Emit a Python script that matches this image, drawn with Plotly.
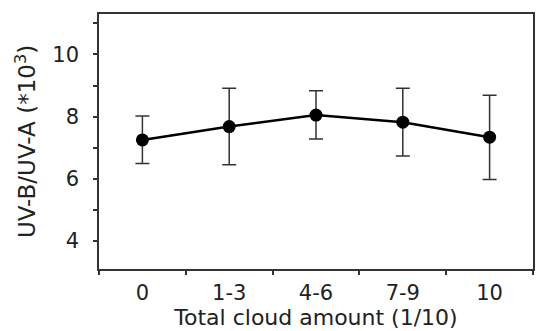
import plotly.graph_objects as go

categories = ["0", "1-3", "4-6", "7-9", "10"]
means = [7.25, 7.68, 8.05, 7.82, 7.34]
upper = [8.02, 8.91, 8.83, 8.91, 8.69]
lower = [6.49, 6.45, 7.28, 6.73, 5.98]

err_plus = [u - m for u, m in zip(upper, means)]
err_minus = [m - l for m, l in zip(means, lower)]

font_family = "DejaVu Sans, sans-serif"

fig = go.Figure()
fig.add_trace(go.Scatter(
    x=categories, y=means, mode="lines+markers",
    line=dict(color="black", width=2.5),
    marker=dict(color="black", size=13),
    error_y=dict(type="data", symmetric=False, array=err_plus, arrayminus=err_minus,
                 color="#333333", thickness=1.5, width=7),
    showlegend=False,
))

fig.update_layout(
    width=536, height=331,
    margin=dict(l=99, r=1, t=14, b=62),
    plot_bgcolor="white", paper_bgcolor="white",
    font=dict(family=font_family, size=21, color="#222222"),
    xaxis=dict(
        type="category", range=[-0.5, 4.5], tickson="boundaries",
        ticks="outside", ticklen=4, tickwidth=1.5, tickcolor="#333333",
        showline=True, linecolor="#333333", linewidth=1.5, mirror=True,
        showgrid=False, zeroline=False, ticklabelstandoff=4,
        title=dict(text="Total cloud amount (1/10)", font=dict(size=22), standoff=6),
    ),
    yaxis=dict(
        range=[3.1, 11.3], tickvals=[4, 6, 8, 10],
        ticks="outside", ticklen=4, tickwidth=1.5, tickcolor="#333333",
        minor=dict(tickvals=[5, 7, 9, 11], ticks="outside", ticklen=4, tickwidth=1.5, tickcolor="#333333"),
        showline=True, linecolor="#333333", linewidth=1.5, mirror=True,
        showgrid=False, zeroline=False, ticklabelstandoff=10,
        title=dict(text="UV-B/UV-A (*10<sup>3</sup>)", font=dict(size=23), standoff=10),
    ),
)

fig.write_html("out.html")
